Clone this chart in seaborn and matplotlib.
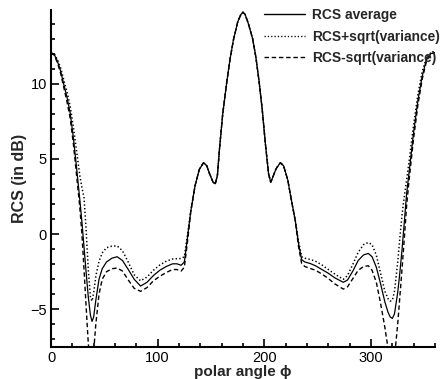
import numpy as np
import pandas as pd
import matplotlib
matplotlib.use("Agg")
import matplotlib.pyplot as plt
import seaborn as sns
from matplotlib.ticker import MultipleLocator

angles = [0, 3, 6, 9, 12, 15, 18, 21, 24, 27, 29, 31, 33, 35, 37, 38.5, 40, 42, 45, 48,
          52, 57, 62, 67, 72, 78, 84, 90, 96, 102, 108, 114, 118, 122, 125, 128, 131, 135,
          139, 143, 146, 149, 152, 154, 156, 158, 161, 164.6, 168, 171, 175, 178, 180, 182,
          185, 189, 192, 195, 198, 201, 204, 206, 208, 211, 215, 218, 222, 225, 229, 232,
          235, 238, 243, 248, 254, 260, 266, 274, 278, 283, 288, 293, 297.5, 301, 305, 309,
          313, 316, 318, 320, 322, 325, 327, 329, 331, 333.4, 336, 340, 344, 348, 352, 356, 360]

rcs_avg = [12.05, 11.95, 11.5, 10.85, 9.95, 9.1, 8.05, 6.4, 4.4, 2.3, 0.8, -0.9, -2.6, -4.2,
           -5.4, -5.8, -5.5, -4.4, -3.0, -2.3, -1.85, -1.6, -1.5, -1.75, -2.3, -3.0, -3.45,
           -3.2, -2.75, -2.4, -2.15, -1.97, -1.97, -2.07, -1.85, -0.2, 1.5, 3.2, 4.3, 4.75,
           4.55, 3.95, 3.45, 3.35, 3.9, 5.7, 8.0, 10.0, 11.7, 12.9, 14.1, 14.6, 14.75, 14.6,
           14.0, 13.0, 11.8, 10.2, 8.3, 6.0, 4.0, 3.45, 3.8, 4.35, 4.75, 4.55, 3.6, 2.4, 0.9,
           -0.6, -1.7, -1.85, -1.95, -2.1, -2.35, -2.6, -2.9, -3.2, -3.05, -2.45, -1.75, -1.38,
           -1.28, -1.5, -2.2, -3.3, -4.5, -5.2, -5.5, -5.6, -5.3, -3.9, -2.6, -1.1, 0.6, 2.7,
           4.3, 6.8, 8.9, 10.5, 11.6, 12.0, 12.05]

rcs_plus = [12.05, 12.0, 11.6, 11.05, 10.25, 9.45, 8.5, 7.1, 5.5, 3.9, 3.1, 2.4, 0.2, -2.4,
            -4.2, -4.45, -3.9, -2.8, -1.8, -1.25, -0.9, -0.8, -0.78, -1.1, -1.8, -2.7, -3.1,
            -2.85, -2.4, -2.05, -1.8, -1.65, -1.63, -1.62, -1.5, 0.0, 1.5, 3.2, 4.3, 4.75,
            4.55, 3.95, 3.45, 3.35, 3.9, 5.7, 8.0, 10.0, 11.7, 12.9, 14.1, 14.6, 14.75, 14.6,
            14.0, 13.0, 11.8, 10.2, 8.3, 6.0, 4.0, 3.45, 3.8, 4.35, 4.75, 4.55, 3.6, 2.4, 0.9,
            -0.45, -1.5, -1.6, -1.68, -1.8, -2.05, -2.35, -2.65, -3.0, -2.75, -2.0, -1.2, -0.7,
            -0.55, -0.7, -1.4, -2.6, -3.8, -4.3, -4.45, -4.4, -3.8, -1.9, -0.3, 1.2, 2.4, 3.6,
            5.0, 7.3, 9.3, 10.8, 11.75, 12.05, 12.05]

rcs_minus = [12.05, 11.9, 11.4, 10.7, 9.75, 8.8, 7.7, 6.0, 3.9, 1.8, 0.0, -2.4, -4.9, -7.3,
             -8.5, -8.7, -7.8, -6.0, -4.0, -3.0, -2.5, -2.3, -2.25, -2.45, -3.0, -3.6, -3.8,
             -3.55, -3.1, -2.8, -2.55, -2.35, -2.35, -2.45, -2.2, -0.5, 1.5, 3.2, 4.3, 4.75,
             4.55, 3.95, 3.45, 3.35, 3.9, 5.7, 8.0, 10.0, 11.7, 12.9, 14.1, 14.6, 14.75, 14.6,
             14.0, 13.0, 11.8, 10.2, 8.3, 6.0, 4.0, 3.45, 3.8, 4.35, 4.75, 4.55, 3.6, 2.4, 0.9,
             -0.8, -1.95, -2.15, -2.28, -2.4, -2.65, -2.95, -3.3, -3.65, -3.5, -2.95, -2.4,
             -2.15, -2.1, -2.4, -3.2, -4.6, -6.2, -7.6, -8.4, -8.6, -8.2, -6.0, -4.2, -2.4,
             -0.5, 1.9, 3.8, 6.4, 8.6, 10.3, 11.5, 12.0, 12.05]

labels = ["RCS average", "RCS+sqrt(variance)", "RCS-sqrt(variance)"]

sns.set_style("ticks")
plt.rcParams["font.family"] = ["Liberation Sans", "DejaVu Sans"]

df = pd.DataFrame({"phi": angles, "avg": rcs_avg, "plus": rcs_plus, "minus": rcs_minus})

fig = plt.figure(figsize=(4.45, 3.79), dpi=100)
ax = fig.add_axes([51 / 445, 32 / 379, 384 / 445, 337 / 379])

sns.lineplot(data=df, x="phi", y="avg", ax=ax, color="black", lw=0.9,
             linestyle="-", label=labels[0])
sns.lineplot(data=df, x="phi", y="plus", ax=ax, color="black", lw=1.1,
             linestyle=(0, (0.9, 1.5)), label=labels[1])
sns.lineplot(data=df, x="phi", y="minus", ax=ax, color="black", lw=1.0,
             linestyle=(0, (3.2, 2.0)), label=labels[2])

ax.set_xlim(0, 360)
ax.set_ylim(-7.5, 14.9)
ax.xaxis.set_major_locator(MultipleLocator(100))
ax.xaxis.set_minor_locator(MultipleLocator(20))
ax.yaxis.set_major_locator(MultipleLocator(5))
ax.yaxis.set_minor_locator(MultipleLocator(1))
ax.tick_params(which="both", direction="in", width=1.2, labelsize=10.5, colors="black")
ax.tick_params(which="major", length=5.5, pad=3)
ax.tick_params(which="minor", length=3.2)
for s in ["top", "right"]:
    ax.spines[s].set_visible(False)
for s in ["left", "bottom"]:
    ax.spines[s].set_linewidth(1.5)
    ax.spines[s].set_color("black")

ax.set_xlabel("polar angle ϕ", fontsize=11, fontweight="bold", labelpad=0)
ax.set_ylabel("RCS (in dB)", fontsize=11.5, fontweight="bold", labelpad=2)

leg = ax.legend(loc="upper left", bbox_to_anchor=(264 / 445, 1 - 8 / 379),
                bbox_transform=fig.transFigure, frameon=False, borderpad=0,
                borderaxespad=0, handlelength=3.0, handletextpad=0.5,
                labelspacing=0.55, prop={"weight": "bold", "size": 9.9})
for line in leg.get_lines():
    line.set_linewidth(1.0)

fig.savefig("out.png", dpi=100)
